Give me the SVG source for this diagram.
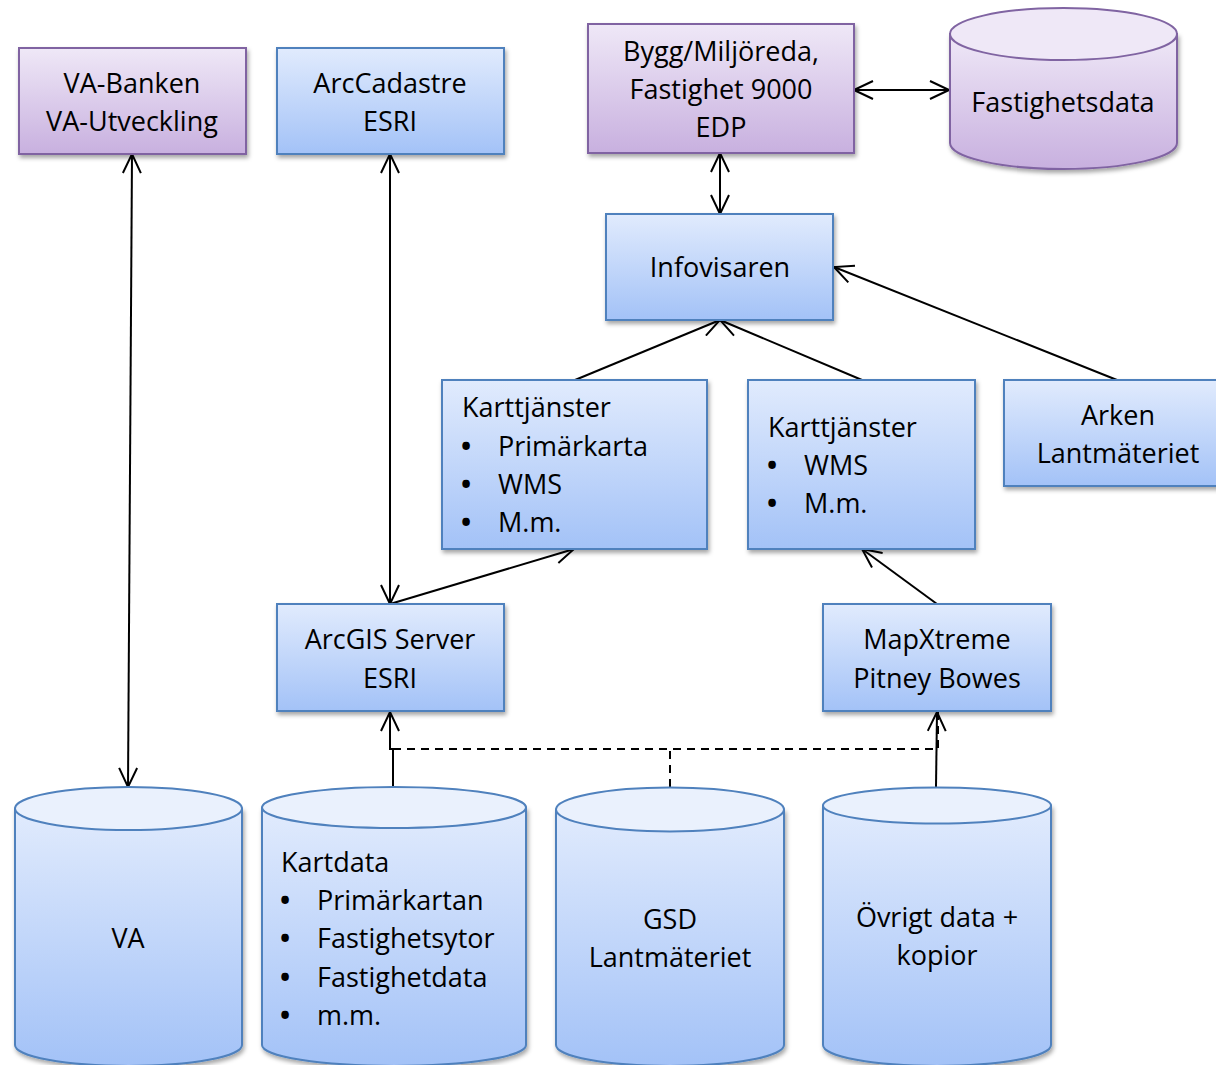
<svg xmlns="http://www.w3.org/2000/svg" width="1216" height="1065" viewBox="0 0 1216 1065">
<defs>
<linearGradient id="gBlue" x1="0" y1="0" x2="0" y2="1">
<stop offset="0" stop-color="#e1ebfd"/>
<stop offset="1" stop-color="#a3c2f7"/>
</linearGradient>
<linearGradient id="gPurple" x1="0" y1="0" x2="0" y2="1">
<stop offset="0" stop-color="#efe8f7"/>
<stop offset="1" stop-color="#c8b0df"/>
</linearGradient>
<filter id="sh" x="-10%" y="-10%" width="125%" height="130%">
<feDropShadow dx="1.5" dy="3" stdDeviation="2" flood-color="#000" flood-opacity="0.35"/>
</filter>
<marker id="ah" viewBox="-20 -10 22 20" refX="0" refY="0" markerWidth="22" markerHeight="20" markerUnits="userSpaceOnUse" orient="auto-start-reverse">
<path d="M-19,-9 L0,0 L-19,9" fill="none" stroke="#000" stroke-width="2"/>
</marker>
<style>
.bb{fill:url(#gBlue);stroke:#4f81bd;stroke-width:2;filter:url(#sh)}
.pb{fill:url(#gPurple);stroke:#8064a2;stroke-width:2;filter:url(#sh)}
.bt{fill:#eaf1fd;stroke:#4f81bd;stroke-width:2}
.pt{fill:#efe8f7;stroke:#8064a2;stroke-width:2}
text{font-family:"Open Sans","DejaVu Sans",sans-serif;font-size:27px;fill:#000}
.c{text-anchor:middle}
.bl{font-weight:bold}
.ln{fill:none;stroke:#000;stroke-width:2}
.ds{fill:none;stroke:#000;stroke-width:2;stroke-dasharray:8 6}
</style>
</defs>
<rect width="1216" height="1065" fill="#fff"/>

<g id="connectors">
<line class="ln" x1="132" y1="154" x2="128" y2="787" marker-start="url(#ah)" marker-end="url(#ah)"/>
<line class="ln" x1="390" y1="154" x2="390" y2="604" marker-start="url(#ah)" marker-end="url(#ah)"/>
<line class="ln" x1="390" y1="604" x2="574" y2="549" marker-end="url(#ah)"/>
<line class="ln" x1="854" y1="90" x2="949" y2="90" marker-start="url(#ah)" marker-end="url(#ah)"/>
<line class="ln" x1="720" y1="153" x2="720" y2="214" marker-start="url(#ah)" marker-end="url(#ah)"/>
<line class="ln" x1="575" y1="380" x2="720" y2="320" marker-end="url(#ah)"/>
<line class="ln" x1="862" y1="380" x2="720" y2="320" marker-end="url(#ah)"/>
<line class="ln" x1="1117" y1="380" x2="834" y2="267" marker-end="url(#ah)"/>
<line class="ln" x1="937" y1="604" x2="862" y2="549" marker-end="url(#ah)"/>
<path class="ds" d="M670,787 L670,749 M393,749 L938,749 L938,712"/>
<path class="ln" d="M393,787 L393,749 L390,749 L390,712" marker-end="url(#ah)"/>
<line class="ln" x1="936" y1="787" x2="937" y2="712" marker-end="url(#ah)"/>
</g>

<g id="va-banken">
<rect class="pb" x="19" y="48" width="227" height="106"/>
<text class="c" x="132" y="93">VA-Banken</text>
<text class="c" x="132" y="131">VA-Utveckling</text>
</g>

<g id="arccadastre">
<rect class="bb" x="277" y="48" width="227" height="106"/>
<text class="c" x="390" y="93">ArcCadastre</text>
<text class="c" x="390" y="131">ESRI</text>
</g>

<g id="bygg">
<rect class="pb" x="588" y="24" width="266" height="129"/>
<text class="c" x="721" y="61">Bygg/Miljöreda,</text>
<text class="c" x="721" y="99">Fastighet 9000</text>
<text class="c" x="721" y="137">EDP</text>
</g>

<g id="fastighetsdata">
<path class="pb" d="M950,34 L950,143 A113.5,26 0 0 0 1177,143 L1177,34 Z"/>
<ellipse class="pt" cx="1063.5" cy="34" rx="113.5" ry="26"/>
<text class="c" x="1063" y="112">Fastighetsdata</text>
</g>

<g id="infovisaren">
<rect class="bb" x="606" y="214" width="227" height="106"/>
<text class="c" x="720" y="277">Infovisaren</text>
</g>

<g id="karttjanster1">
<rect class="bb" x="442" y="380" width="265" height="169"/>
<text x="462" y="417">Karttjänster</text>
<text x="461" y="456"><tspan class="bl">•</tspan><tspan x="498">Primärkarta</tspan></text>
<text x="461" y="494"><tspan class="bl">•</tspan><tspan x="498">WMS</tspan></text>
<text x="461" y="532"><tspan class="bl">•</tspan><tspan x="498">M.m.</tspan></text>
</g>

<g id="karttjanster2">
<rect class="bb" x="748" y="380" width="227" height="169"/>
<text x="768" y="437">Karttjänster</text>
<text x="767" y="475"><tspan class="bl">•</tspan><tspan x="804">WMS</tspan></text>
<text x="767" y="513"><tspan class="bl">•</tspan><tspan x="804">M.m.</tspan></text>
</g>

<g id="arken">
<rect class="bb" x="1004" y="380" width="227" height="106"/>
<text class="c" x="1118" y="425">Arken</text>
<text class="c" x="1118" y="463">Lantmäteriet</text>
</g>

<g id="arcgis">
<rect class="bb" x="277" y="604" width="227" height="107"/>
<text class="c" x="390" y="649">ArcGIS Server</text>
<text class="c" x="390" y="688">ESRI</text>
</g>

<g id="mapxtreme">
<rect class="bb" x="823" y="604" width="228" height="107"/>
<text class="c" x="937" y="649">MapXtreme</text>
<text class="c" x="937" y="688">Pitney Bowes</text>
</g>

<g id="va">
<path class="bb" d="M15,808.5 L15,1045 A113.5,21 0 0 0 242,1045 L242,808.5 Z"/>
<ellipse class="bt" cx="128.5" cy="808.5" rx="113.5" ry="21.5"/>
<text class="c" x="128" y="948">VA</text>
</g>

<g id="kartdata">
<path class="bb" d="M262,807.5 L262,1045 A132,21 0 0 0 526,1045 L526,807.5 Z"/>
<ellipse class="bt" cx="394" cy="807.5" rx="132" ry="20.5"/>
<text x="281" y="872">Kartdata</text>
<text x="280" y="910"><tspan class="bl">•</tspan><tspan x="317">Primärkartan</tspan></text>
<text x="280" y="948"><tspan class="bl">•</tspan><tspan x="317">Fastighetsytor</tspan></text>
<text x="280" y="987"><tspan class="bl">•</tspan><tspan x="317">Fastighetdata</tspan></text>
<text x="280" y="1025"><tspan class="bl">•</tspan><tspan x="317">m.m.</tspan></text>
</g>

<g id="gsd">
<path class="bb" d="M556,809.5 L556,1045 A114,21 0 0 0 784,1045 L784,809.5 Z"/>
<ellipse class="bt" cx="670" cy="809.5" rx="114" ry="22"/>
<text class="c" x="670" y="929">GSD</text>
<text class="c" x="670" y="967">Lantmäteriet</text>
</g>

<g id="ovrigt">
<path class="bb" d="M823,805.5 L823,1045 A114,21 0 0 0 1051,1045 L1051,805.5 Z"/>
<ellipse class="bt" cx="937" cy="805.5" rx="114" ry="18"/>
<text class="c" x="937" y="927">Övrigt data +</text>
<text class="c" x="937" y="965">kopior</text>
</g>
</svg>
